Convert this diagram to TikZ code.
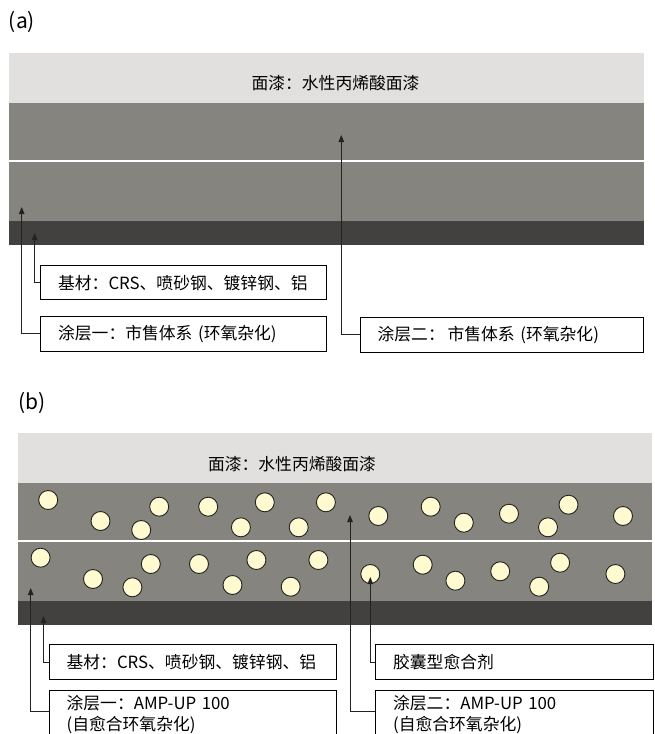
\documentclass[tikz,border=0pt]{standalone}
\usepackage{fontspec}
\setmainfont{Noto Sans CJK SC}
\usetikzlibrary{arrows.meta}
\definecolor{topc}{HTML}{E1E0DE}
\definecolor{midc}{HTML}{85847F}
\definecolor{subc}{HTML}{434140}
\definecolor{capc}{HTML}{FFFAD0}
\definecolor{linec}{HTML}{222222}
\begin{document}
\begin{tikzpicture}[x=1pt,y=-1pt,
  box/.style={draw=black, line width=1.2pt, fill=white, anchor=north west, inner xsep=17.5pt, inner ysep=0pt, align=left, font=\fontsize{16.8}{21.5}\selectfont},
  lbl/.style={font=\fontsize{16.8}{20}\selectfont, inner sep=0pt},
  capsule/.style={circle, draw=linec, line width=0.9pt, fill=capc, minimum size=19pt, inner sep=0pt},
  conn/.style={draw=linec, line width=0.9pt, -{Triangle[length=7pt,width=5.5pt]}},
  panel/.style={font=\fontsize{21}{24}\selectfont, inner sep=0pt}
]
\useasboundingbox (0,0) rectangle (655,734);
\clip (0,0) rectangle (655,734);

% ---------- (a) ----------
\node[panel] (pa) at (22,22) {(a)};
\fill[topc] (9,53) rectangle (643.5,103);
\fill[midc] (9,103) rectangle (643.5,221);
\draw[white, line width=2pt] (9,160.5) -- (643.5,160.5);
\fill[subc] (9,221) rectangle (643.5,245);
\node[lbl] (ta) at (335.5,83) {面漆：水性丙烯酸面漆};

\coordinate (a1) at (21.7,207);
\coordinate (a2) at (34.7,233);
\coordinate (a3) at (341.3,135);

\node[box, text width=251pt, minimum height=34pt] (sa) at (40,265) {基材：CRS、喷砂钢、镀锌钢、铝};
\node[box, text width=251pt, minimum height=34.5pt] (la1) at (40,316) {涂层一：市售体系 (环氧杂化)};
\node[box, text width=248.5pt, minimum height=34.5pt] (la2) at (359.5,317) {涂层二：\,市售体系 (环氧杂化)};

\draw[conn] (sa.west) -| (a2);
\draw[conn] (la1.west) -| (a1);
\draw[conn] (la2.west) -| (a3);

% ---------- (b) ----------
\node[panel] (pb) at (32,403) {(b)};
\fill[topc] (17.7,433) rectangle (652,483);
\fill[midc] (17.7,483) rectangle (652,601);
\draw[white, line width=2pt] (17.7,540.5) -- (652,540.5);
\fill[subc] (17.7,601) rectangle (652,624.5);
\node[lbl] (tb) at (292,464) {面漆：水性丙烯酸面漆};

\foreach \x/\y [count=\i] in {48.2/500, 100.5/521, 141.2/530, 159.2/506.7, 208.2/506.7, 240.9/527.3, 264.8/502.3, 298.7/527.3, 325.9/502.3, 378.3/516, 430.7/506.7, 463.8/522.7, 509/513.7, 548/527.3, 568.5/504.7, 623/516}
  \node[capsule] (u\i) at (\x,\y) {};
\foreach \x/\y [count=\i] in {40.6/557.7, 93/579, 132.4/587.3, 150.8/564, 199/564, 232.5/585, 256.4/560, 290.7/586.7, 318.4/560, 370.3/574, 422.7/564.7, 455.4/580.7, 500.2/571.3, 539.2/586.7, 560.1/562.7, 615.4/574}
  \node[capsule] (d\i) at (\x,\y) {};

\coordinate (b1) at (30.7,588);
\coordinate (b2) at (43.5,616);
\coordinate (b3) at (350,515);
\coordinate (b4) at ([yshift=-3pt]d10.center);

\node[box, text width=252pt, minimum height=35pt] (sb) at (48.5,644) {基材：CRS、喷砂钢、镀锌钢、铝};
\node[box, text width=242.5pt, minimum height=35pt] (cb) at (375,644) {胶囊型愈合剂};
\node[box, text width=252pt, minimum height=48pt] (lb1) at (48.5,690) {涂层一：AMP-UP 100\\(自愈合环氧杂化)};
\node[box, text width=242.5pt, minimum height=48pt] (lb2) at (375,690) {涂层二：AMP-UP 100\\(自愈合环氧杂化)};

\draw[conn] (sb.west) -| (b2);
\draw[conn] (cb.west) -| (b4);
\draw[conn] ([yshift=3pt]lb1.west) -| (b1);
\draw[conn] ([yshift=3pt]lb2.west) -| (b3);
\end{tikzpicture}
\end{document}
